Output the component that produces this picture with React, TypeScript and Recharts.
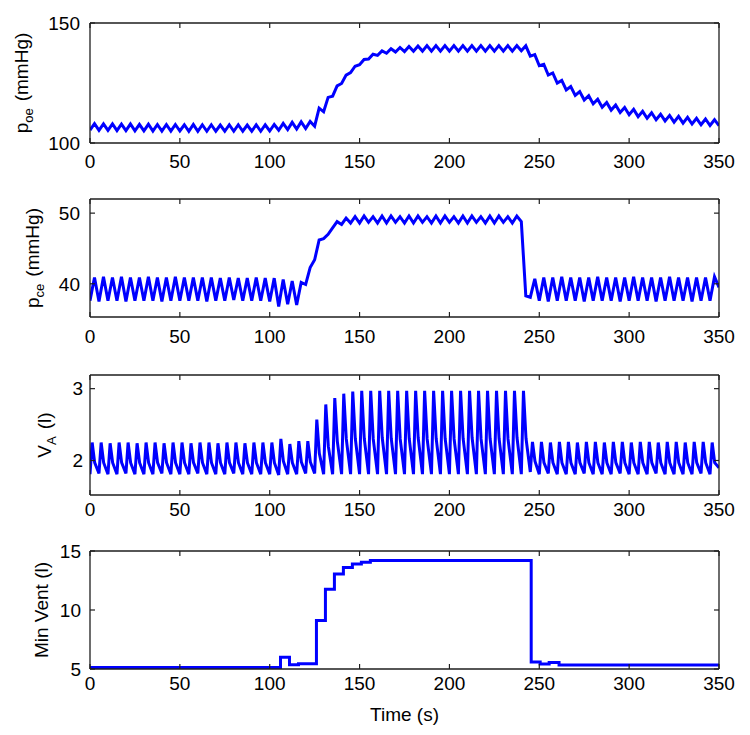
import React from "react";
import { LineChart, Line, XAxis, YAxis } from "recharts";

const TIME_TICKS = [0, 50, 100, 150, 200, 250, 300, 350];
const BREATH = 5; // one breath every 5 s, 70 breaths

// p_oe (mmHg): value at breath start / at mid-breath
const poeLo = [
  105.4, 105.3, 105.3, 105.2, 105.2, 105.1, 105.1, 105.0, 105.0, 105.0,
  105.0, 104.9, 104.9, 104.9, 104.9, 104.9, 104.9, 104.9, 104.9, 104.9,
  105.0, 105.3, 105.6, 105.8, 106.0, 107.0, 113.0, 119.5, 124.8, 129.3,
  132.6, 135.0, 136.5, 137.4, 137.9, 138.1, 138.2, 138.3, 138.3, 138.3,
  138.3, 138.3, 138.3, 138.3, 138.3, 138.3, 138.3, 138.3, 138.4, 136.2,
  132.2, 128.3, 125.0, 122.1, 119.8, 117.9, 116.3, 114.9, 113.7, 112.7,
  111.8, 111.0, 110.3, 109.7, 109.2, 108.7, 108.3, 107.9, 107.6, 107.3,
];
const poeHi = [
  108.1, 108.0, 108.0, 107.9, 107.9, 107.8, 107.8, 107.7, 107.7, 107.7,
  107.6, 107.7, 107.6, 107.6, 107.5, 107.6, 107.6, 107.5, 107.6, 107.6,
  107.7, 108.2, 108.6, 108.8, 109.0, 114.5, 119.0, 123.8, 128.3, 132.0,
  134.8, 137.0, 138.4, 139.3, 139.8, 140.2, 140.4, 140.6, 140.6, 140.6,
  140.6, 140.6, 140.6, 140.6, 140.6, 140.6, 140.6, 140.6, 140.5, 136.8,
  132.8, 129.2, 126.1, 123.5, 121.4, 119.7, 118.2, 116.9, 115.8, 114.8,
  114.0, 113.2, 112.6, 112.0, 111.5, 111.1, 110.7, 110.3, 110.0, 109.7,
];
const poeEnd = 107.2;

// p_ce (mmHg)
const pceLo = [
  37.6, 37.5, 37.6, 37.6, 37.5, 37.6, 37.6, 37.6, 37.5, 37.6,
  37.6, 37.6, 37.6, 37.5, 37.6, 37.6, 37.7, 37.6, 37.6, 37.6,
  37.5, 36.8, 37.1, 37.0, 39.9, 43.4, 46.4, 47.9, 48.4, 48.6,
  48.6, 48.7, 48.6, 48.6, 48.7, 48.6, 48.6, 48.7, 48.6, 48.6,
  48.7, 48.6, 48.6, 48.7, 48.6, 48.6, 48.7, 48.6, 48.8, 38.1,
  37.6, 37.5, 37.6, 37.6, 37.6, 37.5, 37.6, 37.6, 37.6, 37.5,
  37.6, 37.6, 37.6, 37.5, 37.6, 37.6, 37.6, 37.5, 37.6, 37.6,
];
const pceHi = [
  40.9, 41.0, 40.9, 41.0, 40.9, 40.9, 41.0, 40.9, 40.9, 41.0,
  40.9, 40.9, 40.9, 40.9, 40.8, 40.9, 40.8, 40.8, 40.9, 40.8,
  40.8, 40.6, 40.4, 40.2, 42.3, 46.2, 47.0, 48.8, 49.3, 49.5,
  49.6, 49.5, 49.6, 49.6, 49.5, 49.6, 49.6, 49.5, 49.6, 49.6,
  49.5, 49.6, 49.6, 49.5, 49.6, 49.6, 49.5, 49.6, 38.3, 40.7,
  40.9, 40.9, 41.0, 40.9, 40.9, 40.9, 41.0, 40.9, 40.9, 40.9,
  41.0, 40.9, 40.9, 40.9, 41.0, 40.9, 40.9, 40.9, 40.9, 41.0,
];
const pceEnd = 39.5;

// V_A (l): trough, peak, shoulder of each breath
const vaLo = [
  1.81, 1.82, 1.81, 1.81, 1.82, 1.81, 1.81, 1.81, 1.82, 1.81,
  1.81, 1.81, 1.82, 1.81, 1.81, 1.81, 1.82, 1.81, 1.81, 1.81,
  1.81, 1.80, 1.81, 1.81, 1.82, 1.82, 1.81, 1.81, 1.81, 1.81,
  1.81, 1.81, 1.81, 1.81, 1.81, 1.81, 1.81, 1.81, 1.81, 1.81,
  1.81, 1.81, 1.81, 1.81, 1.81, 1.81, 1.81, 1.81, 1.81, 1.84,
  1.81, 1.82, 1.81, 1.81, 1.81, 1.82, 1.81, 1.81, 1.81, 1.82,
  1.81, 1.81, 1.81, 1.82, 1.81, 1.81, 1.81, 1.81, 1.82, 1.81,
];
const vaHi = [
  2.25, 2.25, 2.24, 2.25, 2.25, 2.24, 2.25, 2.25, 2.24, 2.25,
  2.25, 2.24, 2.25, 2.25, 2.24, 2.25, 2.25, 2.24, 2.25, 2.25,
  2.25, 2.30, 2.23, 2.27, 2.27, 2.57, 2.78, 2.87, 2.93, 2.96,
  2.97, 2.97, 2.97, 2.97, 2.97, 2.97, 2.97, 2.97, 2.97, 2.97,
  2.97, 2.97, 2.97, 2.97, 2.97, 2.97, 2.97, 2.97, 2.97, 2.26,
  2.26, 2.25, 2.26, 2.26, 2.25, 2.26, 2.26, 2.25, 2.26, 2.26,
  2.25, 2.26, 2.26, 2.25, 2.26, 2.26, 2.25, 2.26, 2.26, 2.25,
];
const vaMid = [
  1.97, 1.97, 1.97, 1.97, 1.97, 1.97, 1.97, 1.97, 1.97, 1.97,
  1.97, 1.97, 1.97, 1.97, 1.97, 1.97, 1.97, 1.97, 1.97, 1.97,
  1.97, 1.99, 1.97, 1.98, 1.98, 2.10, 2.20, 2.27, 2.30, 2.31,
  2.31, 2.30, 2.32, 2.31, 2.30, 2.31, 2.32, 2.30, 2.31, 2.31,
  2.30, 2.31, 2.32, 2.30, 2.31, 2.31, 2.30, 2.32, 2.31, 1.99,
  1.97, 1.97, 1.97, 1.97, 1.97, 1.97, 1.97, 1.97, 1.97, 1.97,
  1.97, 1.97, 1.97, 1.97, 1.97, 1.97, 1.97, 1.97, 1.97, 1.97,
];
const vaEnd = 1.9;

// Min Vent (l): step changes
const mvTimes = [0, 106, 111, 116, 126, 131, 136, 141, 146, 151, 156, 245.5, 250.5, 255.5, 261, 350];
const mvValues = [5.12, 6.0, 5.35, 5.45, 9.1, 11.75, 13.05, 13.6, 13.9, 14.05, 14.2, 5.6, 5.42, 5.55, 5.33, 5.33];

type Row = { t: number; v: number };

const twoPointData = (lo: number[], hi: number[], end: number): Row[] => {
  const rows: Row[] = [];
  lo.forEach((v, k) => {
    rows.push({ t: k * BREATH, v });
    rows.push({ t: k * BREATH + 2.5, v: hi[k] });
  });
  rows.push({ t: 350, v: end });
  return rows;
};

const vaData = (): Row[] => {
  const rows: Row[] = [];
  vaLo.forEach((v, k) => {
    rows.push({ t: k * BREATH, v });
    rows.push({ t: k * BREATH + 1.2, v: vaHi[k] });
    rows.push({ t: k * BREATH + 2.6, v: vaMid[k] });
  });
  rows.push({ t: 350, v: vaEnd });
  return rows;
};

const mvData: Row[] = mvTimes.map((t, i) => ({ t, v: mvValues[i] }));

const AXIS = "#1e1e1e";
const FONT = 19;
const TICK = 5; // inward tick length, MATLAB style

// tick renderers: label + inward tick mark
const bottomTick = (gap: number) => (props: any) => {
  const { x, y, payload } = props;
  return (
    <g>
      <line x1={x} x2={x} y1={y - gap} y2={y - gap - TICK} stroke={AXIS} strokeWidth={1.2} />
      <text x={x} y={y} dy="0.71em" textAnchor="middle" fontSize={FONT} fill="#000">{payload.value}</text>
    </g>
  );
};
const leftTick = (gap: number) => (props: any) => {
  const { x, y, payload } = props;
  return (
    <g>
      <line x1={x + gap} x2={x + gap + TICK} y1={y} y2={y} stroke={AXIS} strokeWidth={1.2} />
      <text x={x} y={y} dy="0.355em" textAnchor="end" fontSize={FONT} fill="#000">{payload.value}</text>
    </g>
  );
};
const topTick = (props: any) => (
  <line x1={props.x} x2={props.x} y1={props.y} y2={props.y + TICK} stroke={AXIS} strokeWidth={1.2} />
);
const rightTick = (props: any) => (
  <line x1={props.x} x2={props.x - TICK} y1={props.y} y2={props.y} stroke={AXIS} strokeWidth={1.2} />
);

interface PanelProps {
  top: number;
  plotTop: number;
  plotHeight: number;
  axisHeight: number;
  data: Row[];
  domain: [number, number];
  yTicks: number[];
  yGap: number;
  xGap: number;
  step?: boolean;
  xLabel?: string;
}

const Panel = (p: PanelProps) => {
  const h = p.plotTop + p.plotHeight + p.axisHeight;
  return (
    <div style={{ position: "absolute", left: 0, top: p.top }}>
      <LineChart width={750} height={h} data={p.data} margin={{ top: p.plotTop - 1, right: 30, bottom: 0, left: 0 }}>
        <XAxis
          xAxisId="b" type="number" dataKey="t" domain={[0, 350]} ticks={TIME_TICKS} interval={0}
          allowDataOverflow height={p.axisHeight} tickSize={0} tickLine={false} tickMargin={p.xGap}
          stroke={AXIS} strokeWidth={1.3} tick={bottomTick(p.xGap)}
          label={p.xLabel ? { value: p.xLabel, position: "insideBottom", offset: 10, fontSize: FONT, fill: "#000" } : undefined}
        />
        <XAxis
          xAxisId="t" orientation="top" type="number" dataKey="t" domain={[0, 350]} ticks={TIME_TICKS} interval={0}
          allowDataOverflow height={1} tickSize={0} tickLine={false} tickMargin={0} stroke={AXIS} strokeWidth={1.3}
          tick={topTick}
        />
        <YAxis
          yAxisId="l" type="number" domain={p.domain} ticks={p.yTicks} interval={0} allowDataOverflow width={90}
          tickSize={0} tickLine={false} tickMargin={p.yGap} stroke={AXIS} strokeWidth={1.3} tick={leftTick(p.yGap)}
        />
        <YAxis
          yAxisId="r" orientation="right" type="number" domain={p.domain} ticks={p.yTicks} interval={0} allowDataOverflow width={1}
          tickSize={0} tickLine={false} tickMargin={0} stroke={AXIS} strokeWidth={1.3} tick={rightTick}
        />
        <Line
          xAxisId="b" yAxisId="l" dataKey="v" type={p.step ? "stepAfter" : "linear"}
          stroke="#0000ff" strokeWidth={3} dot={false} isAnimationActive={false}
        />
      </LineChart>
    </div>
  );
};

const YLabel = ({ x, y, main, sub, rest }: { x: number; y: number; main: string; sub?: string; rest: string }) => (
  <text transform={`translate(${x},${y}) rotate(-90)`} textAnchor="middle" fontSize={FONT} fill="#000">
    {main}
    {sub && <tspan fontSize={13} dy={5}>{sub}</tspan>}
    <tspan dy={sub ? -5 : 0} dx={sub ? 7 : 0}>{rest}</tspan>
  </text>
);

export default function App() {
  return (
    <div
      style={{
        position: "absolute", left: 0, top: 0, width: 750, height: 735, background: "#fff",
        fontFamily: '"Liberation Sans", Arial, sans-serif',
      }}
    >
      <Panel top={0} plotTop={23} plotHeight={120} axisHeight={37} data={twoPointData(poeLo, poeHi, poeEnd)}
        domain={[100, 150]} yTicks={[100, 150]} yGap={10} xGap={12} />
      <Panel top={180} plotTop={19} plotHeight={118} axisHeight={37} data={twoPointData(pceLo, pceHi, pceEnd)}
        domain={[35.3, 52]} yTicks={[40, 50]} yGap={10} xGap={13} />
      <Panel top={355} plotTop={20} plotHeight={120} axisHeight={37} data={vaData()}
        domain={[1.52, 3.19]} yTicks={[2, 3]} yGap={7} xGap={8} />
      <Panel top={532} plotTop={19} plotHeight={118} axisHeight={62} data={mvData} step
        domain={[5, 15]} yTicks={[5, 10, 15]} yGap={9} xGap={8} xLabel="Time (s)" />
      <svg width={750} height={735} style={{ position: "absolute", left: 0, top: 0, pointerEvents: "none" }}>
        <YLabel x={28} y={83} main="p" sub="oe" rest="(mmHg)" />
        <YLabel x={39} y={258} main="p" sub="ce" rest="(mmHg)" />
        <YLabel x={51} y={435} main="V" sub="A" rest="(l)" />
        <YLabel x={48} y={610} main="Min Vent (l)" rest="" />
      </svg>
    </div>
  );
}
